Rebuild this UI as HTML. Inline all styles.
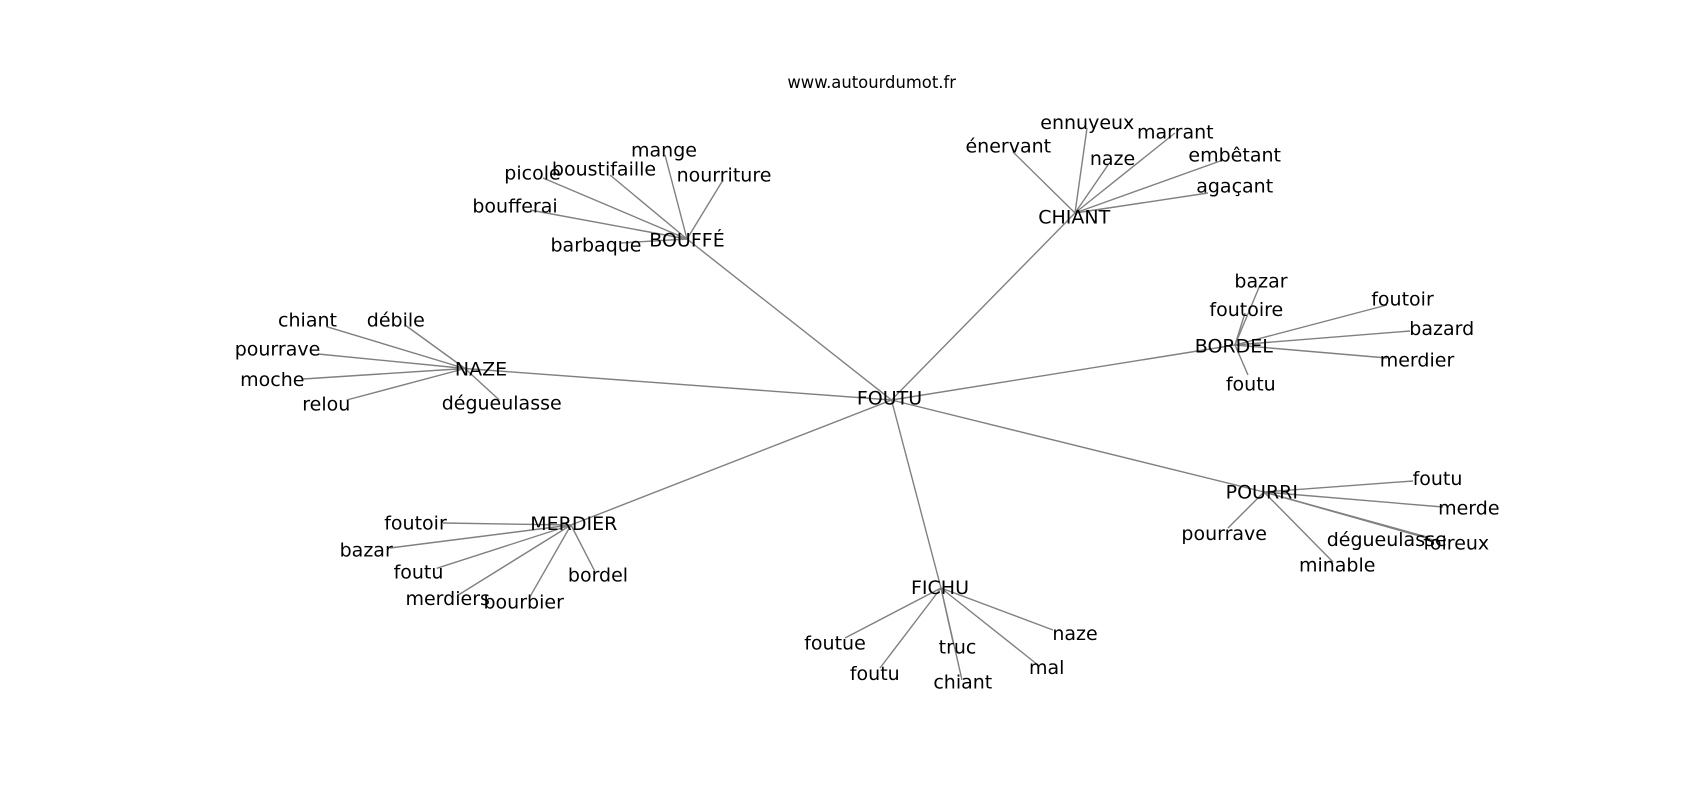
<!DOCTYPE html>
<html>
<head>
<meta charset="utf-8">
<style>
html,body{margin:0;padding:0;background:#fff;}
svg{display:block;}
text{font-family:"DejaVu Sans","Liberation Sans",sans-serif;fill:#000;text-anchor:middle;}
.l{font-size:19px;}
.t{font-size:16.4px;}
line{stroke:#808080;stroke-width:1.4;}
</style>
</head>
<body>
<svg width="1700" height="800" viewBox="0 0 1700 800" xmlns="http://www.w3.org/2000/svg">
<rect width="1700" height="800" fill="#fff"/>
<g>
<!-- hub edges -->
<line x1="891.5" y1="400" x2="687" y2="239"/>
<line x1="891.5" y1="400" x2="1075" y2="213"/>
<line x1="891.5" y1="400" x2="465" y2="368.5"/>
<line x1="891.5" y1="400" x2="571" y2="525"/>
<line x1="891.5" y1="400" x2="941" y2="588"/>
<line x1="891.5" y1="400" x2="1264" y2="492"/>
<line x1="891.5" y1="400" x2="1235" y2="345"/>
<!-- BOUFFE -->
<line x1="687" y1="239" x2="665" y2="155"/>
<line x1="687" y1="239" x2="610" y2="175"/>
<line x1="687" y1="239" x2="543" y2="178"/>
<line x1="687" y1="239" x2="723" y2="180"/>
<line x1="687" y1="239" x2="530" y2="210"/>
<line x1="687" y1="239" x2="620" y2="243"/>
<!-- CHIANT -->
<line x1="1075" y1="213" x2="1013" y2="152"/>
<line x1="1075" y1="213" x2="1087" y2="128"/>
<line x1="1075" y1="213" x2="1108" y2="165"/>
<line x1="1075" y1="213" x2="1175" y2="133"/>
<line x1="1075" y1="213" x2="1223" y2="160"/>
<line x1="1075" y1="213" x2="1208" y2="193"/>
<!-- NAZE -->
<line x1="465" y1="368.5" x2="326.7" y2="326.7"/>
<line x1="465" y1="368.5" x2="405" y2="325"/>
<line x1="465" y1="368.5" x2="318" y2="354"/>
<line x1="465" y1="368.5" x2="303" y2="379"/>
<line x1="465" y1="368.5" x2="346.7" y2="400"/>
<line x1="465" y1="368.5" x2="499.3" y2="400"/>
<!-- MERDIER -->
<line x1="571" y1="525" x2="443" y2="523"/>
<line x1="571" y1="525" x2="390" y2="548"/>
<line x1="571" y1="525" x2="436.7" y2="568.3"/>
<line x1="571" y1="525" x2="458.3" y2="595"/>
<line x1="571" y1="525" x2="530" y2="596.7"/>
<line x1="571" y1="525" x2="595" y2="571.7"/>
<!-- FICHU -->
<line x1="941" y1="588" x2="845" y2="638"/>
<line x1="941" y1="588" x2="880" y2="668"/>
<line x1="941" y1="588" x2="953" y2="642"/>
<line x1="941" y1="588" x2="962" y2="680"/>
<line x1="941" y1="588" x2="1038" y2="665"/>
<line x1="941" y1="588" x2="1053" y2="630"/>
<!-- POURRI -->
<line x1="1264" y1="492" x2="1413" y2="481"/>
<line x1="1264" y1="492" x2="1443" y2="507"/>
<line x1="1264" y1="492" x2="1427" y2="537"/>
<line x1="1264" y1="492" x2="1437" y2="541"/>
<line x1="1264" y1="492" x2="1228" y2="528"/>
<line x1="1264" y1="492" x2="1333" y2="562"/>
<!-- BORDEL -->
<line x1="1235" y1="345" x2="1260" y2="285"/>
<line x1="1235" y1="345" x2="1245" y2="313"/>
<line x1="1235" y1="345" x2="1387" y2="305"/>
<line x1="1235" y1="345" x2="1410" y2="331"/>
<line x1="1235" y1="345" x2="1387" y2="358"/>
<line x1="1235" y1="345" x2="1248" y2="375"/>
</g>

<text class="t" x="871.7" y="88">www.autourdumot.fr</text>

<g>
<text class="l" x="889.5" y="404.5">FOUTU</text>

<text class="l" x="687" y="246.7">BOUFFÉ</text>
<text class="l" x="664" y="156.5">mange</text>
<text class="l" x="604" y="175.5">boustifaille</text>
<text class="l" x="532.5" y="179.3">picole</text>
<text class="l" x="724" y="181.7">nourriture</text>
<text class="l" x="515" y="212.7">boufferai</text>
<text class="l" x="596" y="251.7">barbaque</text>

<text class="l" x="1074.2" y="223.3">CHIANT</text>
<text class="l" x="1008.3" y="152.3">énervant</text>
<text class="l" x="1087.3" y="129">ennuyeux</text>
<text class="l" x="1112.5" y="165">naze</text>
<text class="l" x="1175.3" y="138.3">marrant</text>
<text class="l" x="1234.7" y="161.7">embêtant</text>
<text class="l" x="1234.7" y="192.7">agaçant</text>

<text class="l" x="481" y="375.5">NAZE</text>
<text class="l" x="307.5" y="326.7">chiant</text>
<text class="l" x="395.8" y="326.7">débile</text>
<text class="l" x="277.5" y="355.5">pourrave</text>
<text class="l" x="272.3" y="386">moche</text>
<text class="l" x="326.3" y="410.5">relou</text>
<text class="l" x="501.7" y="409.5">dégueulasse</text>

<text class="l" x="573.8" y="530">MERDIER</text>
<text class="l" x="415.5" y="529.3">foutoir</text>
<text class="l" x="366.2" y="556.7">bazar</text>
<text class="l" x="418.5" y="578.3">foutu</text>
<text class="l" x="447.7" y="605">merdiers</text>
<text class="l" x="523.7" y="608.3">bourbier</text>
<text class="l" x="598" y="581.7">bordel</text>

<text class="l" x="940" y="594">FICHU</text>
<text class="l" x="835" y="649.3">foutue</text>
<text class="l" x="874.8" y="680">foutu</text>
<text class="l" x="957.5" y="653.3">truc</text>
<text class="l" x="962.8" y="688.3">chiant</text>
<text class="l" x="1046.7" y="674">mal</text>
<text class="l" x="1075" y="640">naze</text>

<text class="l" x="1261.8" y="498.3">POURRI</text>
<text class="l" x="1437.5" y="485">foutu</text>
<text class="l" x="1468.8" y="514.3">merde</text>
<text class="l" x="1386.7" y="546">dégueulasse</text>
<text class="l" x="1456.2" y="549.3">foireux</text>
<text class="l" x="1224.2" y="540">pourrave</text>
<text class="l" x="1337.2" y="571.7">minable</text>

<text class="l" x="1233.8" y="352.7">BORDEL</text>
<text class="l" x="1261" y="287.3">bazar</text>
<text class="l" x="1246.3" y="316">foutoire</text>
<text class="l" x="1402.5" y="305.7">foutoir</text>
<text class="l" x="1441.7" y="335">bazard</text>
<text class="l" x="1417" y="366.7">merdier</text>
<text class="l" x="1250.8" y="390.7">foutu</text>
</g>
</svg>
</body>
</html>
